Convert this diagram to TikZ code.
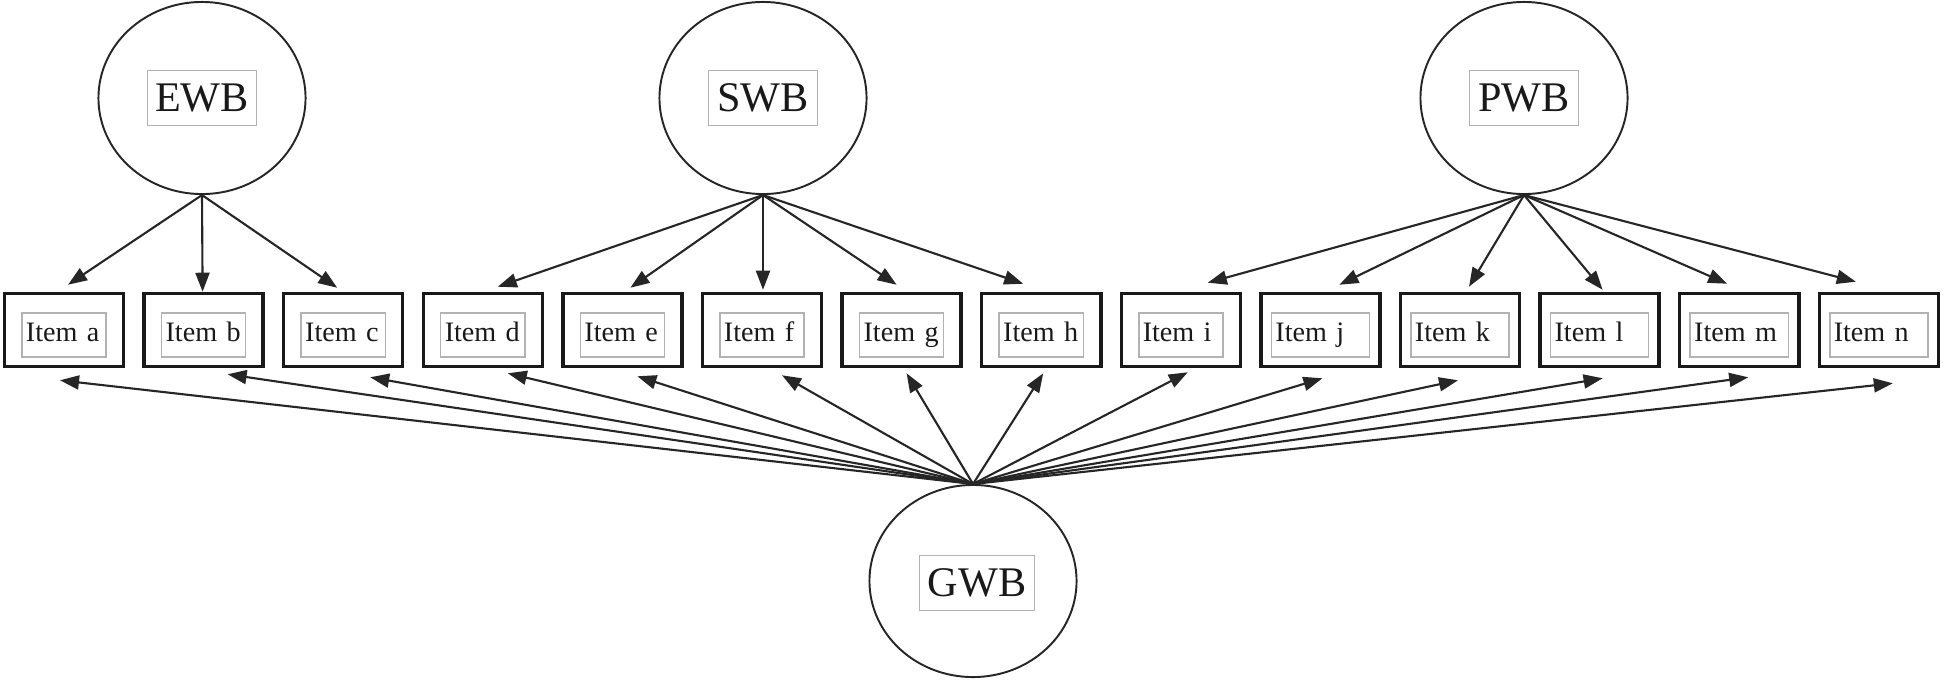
\documentclass[tikz,border=0pt]{standalone}
\usepackage{fontspec}
\setmainfont{Liberation Serif}
\usetikzlibrary{arrows.meta,shapes.geometric}

\begin{document}
\begin{tikzpicture}[x=0.01cm, y=-0.01cm, >={Triangle[length=0.19cm,width=0.14cm]},
  latent/.style={ellipse, draw=black!85, line width=0.55pt, inner sep=0pt, minimum width=2.07cm, minimum height=1.92cm},
  lbl/.style={draw=black!30, line width=0.4pt, inner sep=0pt, minimum width=1.09cm, minimum height=0.55cm,
    text=black!90, font=\fontsize{12}{14}\selectfont},
  itembox/.style={draw=black!90, line width=1pt, inner sep=0pt, minimum width=1.19cm, minimum height=0.73cm},
  itemtxt/.style={draw=black!30, line width=0.4pt, inner xsep=0.04cm, inner ysep=0pt, minimum height=0.44cm,
    text width=#1, align=left, text height=5.5pt, text depth=1.8pt, text=black!90, font=\fontsize{8}{10}\selectfont},
  lnk/.style={->, draw=black!85, line width=0.6pt}]
  \useasboundingbox (0,0) rectangle (1946,681);
  % first-order factors and the general factor
  \node[latent] (ewb) at (202,98) {};
  \node[latent] (swb) at (763,98) {};
  \node[latent] (pwb) at (1524,98) {};
  \node[latent] (gwb) at (973,581) {};
  \node[lbl] at (ewb) {EWB};
  \node[lbl] at (swb) {SWB};
  \node[lbl] at (pwb) {PWB};
  \node[lbl, minimum width=1.15cm] at ([shift={(4,2)}]gwb) {GWB};
  % observed items
  \foreach \l/\w [count=\i from 0] in {a/0.76cm,b/0.76cm,c/0.76cm,d/0.76cm,e/0.76cm,f/0.76cm,g/0.76cm,
      h/0.76cm,i/0.76cm,j/0.9cm,k/0.9cm,l/0.9cm,m/0.9cm,n/0.9cm} {
    \node[itembox] (it-\l) at ({64+139.6*\i},330) {};
    \node[itemtxt=\w] at ({64+139.6*\i},335) {Item~\l};
  }
  % loadings on the specific factors
  \foreach \l/\dx/\dy in {a/4/-7,b/-1/0,c/-6/-4}
    \draw[lnk] (ewb.south) -- ([shift={(\dx,\dy)}]it-\l.north);
  \foreach \l/\dx/\dy in {d/15/-5,e/8/-4,f/1/-2,g/-5/-7,h/-18/-8}
    \draw[lnk] (swb.south) -- ([shift={(\dx,\dy)}]it-\l.north);
  \foreach \l/\dx/\dy in {i/27/-9,j/19/-7,k/9/-5,l/3/-2,m/-12/-8,n/-23/-10}
    \draw[lnk] (pwb.south) -- ([shift={(\dx,\dy)}]it-\l.north);
  % loadings on the general factor
  \foreach \l/\dx/\dy in {a/-4/12,b/24/6,c/27/9,d/25/5,e/15/8,f/20/7,g/5/5,
      h/2/5,i/7/4,j/2/10,k/-2/12,l/3/10,m/9/9,n/14/15}
    \draw[lnk] (gwb.north) -- ([shift={(\dx,\dy)}]it-\l.south);
\end{tikzpicture}
\end{document}
